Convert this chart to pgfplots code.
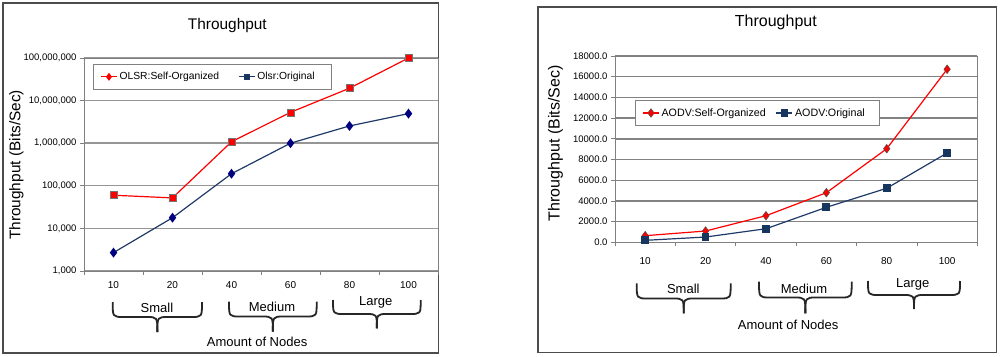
\documentclass[border=0pt]{standalone}
\usepackage{fontspec}
\setmainfont{Liberation Sans}
\usepackage{pgfplots}
\pgfplotsset{compat=1.18}
\definecolor{navyline}{RGB}{31,58,105}
\definecolor{navymark}{RGB}{0,0,128}
\definecolor{navysq}{RGB}{23,54,93}
\definecolor{gridgray}{RGB}{150,150,150}
\definecolor{gridgrayR}{RGB}{130,130,130}

\pgfplotsset{
  common/.style={
    scale only axis,
    xmin=-0.5, xmax=5.5,
    xtick={-0.5,0.5,...,5.5},
    xticklabels={10,20,40,60,80,100},
    x tick label as interval,
    xtick pos=bottom, ytick pos=left,
    tick align=outside,
    major tick length=4pt,
    tick style={gray, line width=0.8pt},
    axis line style={gray, line width=0.8pt},
    ymajorgrids=true,
    scaled y ticks=false,
    clip=false,
    tick label style={font=\fontsize{9.5}{11}\selectfont},
    xticklabel style={yshift=-3pt, font=\fontsize{10}{12}\selectfont},
    legend columns=2,
    legend cell align=left,
    legend image code/.code={\draw[mark repeat=2,mark phase=2,##1] plot coordinates {(0pt,0pt) (8pt,0pt) (16pt,0pt)};},
    legend style={draw=gray, fill=white, line width=0.8pt, inner xsep=7pt, inner ysep=6pt,
      /tikz/every even column/.append style={column sep=17pt}},
  }
}

\newcommand{\grpbrace}[5]{% x1, x2, ytop, ymid, ytip
  \pgfmathsetmacro{\xc}{(#1+#2)/2}
  \pgfmathsetmacro{\xa}{#1+11}
  \pgfmathsetmacro{\xb}{#2-11}
  \pgfmathsetmacro{\xl}{\xc-11}
  \pgfmathsetmacro{\xr}{\xc+11}
  \draw (#1,#3) .. controls (#1,#4) .. (\xa,#4) -- (\xl,#4) .. controls (\xc,#4) .. (\xc,#5);
  \draw (#2,#3) .. controls (#2,#4) .. (\xb,#4) -- (\xr,#4) .. controls (\xc,#4) .. (\xc,#5);
}

\begin{document}
\begin{tikzpicture}[x=1pt,y=1pt]
\useasboundingbox (0,0) rectangle (1000,356);
\draw[line width=1.5pt, black!70] (3,3) rectangle (438.5,353);
\draw[line width=1.2pt, black!70] (538,3.5) rectangle (996.5,349);

% ---------------- left chart ----------------
\begin{axis}[common,
  at={(84pt,85pt)}, anchor=south west,
  width=354pt, height=213pt,
  ymode=log, ymin=1000, ymax=100000000,
  ytick={1000,10000,100000,1000000,10000000,100000000},
  yticklabels={{1,000},{10,000},{100,000},{1,000,000},{10,000,000},{100,000,000}},
  yminorticks=false,
  major grid style={draw=gridgray, line width=1.4pt},
  title={Throughput},
  title style={at={(axis description cs:0.405,1.122)}, anchor=center, font=\fontsize{15.4}{18}\selectfont},
  ylabel={Throughput (Bits/Sec)},
  ylabel style={at={(axis description cs:-0.191,0.498)}, anchor=center, font=\fontsize{15.4}{18}\selectfont},
  xlabel={Amount of Nodes},
  xlabel style={at={(axis description cs:0.489,-0.333)}, anchor=center, font=\fontsize{13}{15}\selectfont},
  legend style={at={(axis description cs:0.0254,0.972)}, anchor=north west, font=\fontsize{10.3}{12}\selectfont},
]
\addplot[red, line width=1.2pt, mark=square*, mark size=3.5pt,
  mark options={fill=red, draw=black!55, line width=0.5pt}, forget plot]
  coordinates {(0,60000) (1,52000) (2,1080000) (3,5300000) (4,19500000) (5,100000000)};
\addplot[navyline, line width=1.2pt, mark=diamond*, mark size=4pt,
  mark options={fill=navymark, draw=navymark}, forget plot]
  coordinates {(0,2700) (1,17800) (2,192000) (3,1000000) (4,2540000) (5,4950000)};
\addlegendimage{red, line width=1.2pt, mark=diamond*, mark size=3pt, mark options={fill=red}}
\addlegendentry{OLSR:Self-Organized}
\addlegendimage{navyline, line width=1.2pt, mark=square*, mark size=2.6pt, mark options={fill=navysq}}
\addlegendentry{Olsr:Original\hspace*{8pt}}
\end{axis}

% ---------------- right chart ----------------
\begin{axis}[common,
  at={(615pt,113.7pt)}, anchor=south west,
  width=362.3pt, height=186.3pt,
  ymin=0, ymax=18000,
  ytick={0,2000,4000,6000,8000,10000,12000,14000,16000,18000},
  yticklabels={0.0,2000.0,4000.0,6000.0,8000.0,10000.0,12000.0,14000.0,16000.0,18000.0},
  major grid style={draw=gridgrayR, line width=1.4pt},
  title={Throughput},
  title style={at={(axis description cs:0.444,1.149)}, anchor=center, font=\fontsize{16}{19}\selectfont},
  ylabel={Throughput (Bits/Sec)},
  ylabel style={at={(axis description cs:-0.164,0.531)}, anchor=center, font=\fontsize{16}{19}\selectfont},
  xlabel={Amount of Nodes},
  xlabel style={at={(axis description cs:0.478,-0.444)}, anchor=center, font=\fontsize{13}{15}\selectfont},
  xticklabel style={yshift=-5pt},
  legend style={at={(axis description cs:0.0552,0.764)}, anchor=north west, font=\fontsize{10.7}{13}\selectfont,
    /tikz/every even column/.append style={column sep=8pt}},
]
\addplot[red, line width=1.2pt, mark=diamond*, mark size=4.3pt,
  mark options={fill=red, draw=black!70, line width=0.5pt}]
  coordinates {(0,640) (1,1090) (2,2570) (3,4790) (4,9040) (5,16720)};
\addlegendentry{AODV:Self-Organized}
\addplot[navyline, line width=1.2pt, mark=square*, mark size=3.3pt,
  mark options={fill=navysq, draw=navysq}]
  coordinates {(0,190) (1,510) (2,1310) (3,3380) (4,5220) (5,8630)};
\addlegendentry{AODV:Original\hspace*{6pt}}
\end{axis}

% ---------------- group braces ----------------
\begin{scope}[line width=1.8pt, black!85]
\grpbrace{112.7}{202}{54}{39}{24}
\grpbrace{229}{316.7}{54.3}{39.5}{24.3}
\grpbrace{333}{420.7}{56}{42}{27.7}
\grpbrace{636.7}{730.7}{72.7}{57.5}{42.7}
\grpbrace{759}{851.7}{74.3}{58.5}{42.7}
\grpbrace{868}{960}{75}{61}{47}
\end{scope}
\begin{scope}[font=\fontsize{13}{15}\selectfont]
\node at (157,48) {Small};
\node at (272,49) {Medium};
\node at (375.7,53.3) {Large};
\node at (683.3,66.7) {Small};
\node at (804,67.3) {Medium};
\node at (912.7,71.7) {Large};
\end{scope}
\end{tikzpicture}
\end{document}
